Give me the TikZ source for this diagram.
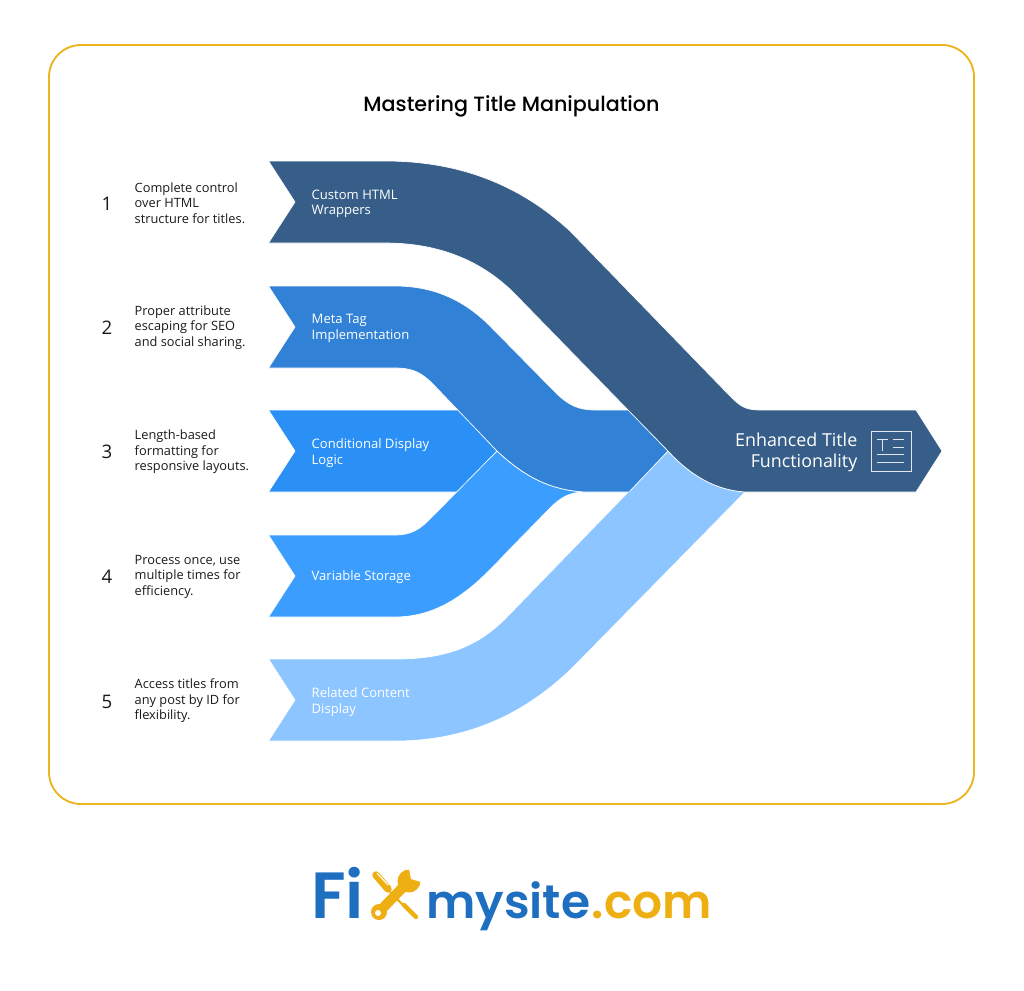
\documentclass[tikz,border=0pt]{standalone}
\usepackage{fontspec}
\setmainfont{Open Sans}
\newfontfamily\logofont{Poppins SemiBold}
\newfontfamily\headfont{Poppins Medium}
\definecolor{frameyellow}{HTML}{EBB51F}
\definecolor{banddark}{HTML}{375E88}
\definecolor{bandmid}{HTML}{3182D6}
\definecolor{bandthree}{HTML}{2B90F5}
\definecolor{bandfour}{HTML}{3B9EFF}
\definecolor{bandlight}{HTML}{8CC5FF}
\definecolor{logoblue}{HTML}{1F6FC0}
\definecolor{logoyellow}{HTML}{EEAF12}
\tikzset{
	band/.style={draw=white,line width=0.5pt},
	num/.style={font=\fontsize{14}{16}\selectfont,text=black!90},
	desc/.style={font=\fontsize{9.6}{11.6}\selectfont,text=black!90,align=left,anchor=west},
	bandtext/.style={font=\fontsize{9.8}{11.6}\selectfont,text=white,align=left,anchor=west},
	iconline/.style={draw=white!85!banddark,line width=0.6pt},
	logotext/.style={font=\fontsize{35.3}{44}\selectfont\logofont,inner sep=0pt}
}
\begin{document}
\begin{tikzpicture}[x=0.75pt,y=-0.75pt]
	\useasboundingbox (0,0) rectangle (1024,990);
	\draw[frameyellow,line width=1.4pt,rounded corners=24] (49,45) rectangle (974,804);
	\node[font=\fontsize{15.5}{18}\selectfont\headfont] (title) at (511.5,106) {Mastering Title Manipulation};

	% bands, back to front
	\fill[bandthree,band] (268.5,410) -- (459,410) -- (497,451) -- (459,492) -- (268.5,492) -- (295,451) -- cycle;
	\fill[bandfour,band] (268.5,535) -- (395,535) .. controls (412,535) and (420,529) .. (431,518) -- (497,451)
		.. controls (525,477) and (550,490) .. (585,492) .. controls (570,492) and (561,497) .. (550,508) -- (506,553)
		.. controls (478,583) and (445,617) .. (395,617) -- (268.5,617) -- (295,576) -- cycle;
	\fill[bandlight,band] (268.5,659) -- (395,659) .. controls (440,659) and (475,650) .. (507,617) -- (668,451)
		.. controls (690,475) and (715,490) .. (745,492) -- (580,660)
		.. controls (530,712) and (470,741) .. (395,741) -- (268.5,741) -- (295,700) -- cycle;
	\fill[bandmid,band] (268.5,286) -- (395,286) .. controls (435,286) and (465,301) .. (490,326) -- (555,392)
		.. controls (568,405) and (578,410) .. (595,410) -- (629,410) -- (668,451) -- (629,492) -- (585,492)
		.. controls (550,490) and (525,477) .. (497,451) -- (431,382)
		.. controls (420,372) and (412,368) .. (395,368) -- (268.5,368) -- (295,327) -- cycle;
	\fill[banddark,band] (268.5,161) -- (385,161) .. controls (460,161) and (520,185) .. (570,231) -- (730,396)
		.. controls (740,406) and (745,410) .. (760,410) -- (916,410) -- (942,451) -- (916,492) -- (745,492)
		.. controls (715,490) and (690,475) .. (668,451) -- (513,292)
		.. controls (478,258) and (435,243) .. (385,243) -- (268.5,243) -- (295,202) -- cycle;

	% left column
	\node[num] (n1) at (107,203.5) {1};
	\node[num] (n2) at (107,327.5) {2};
	\node[num] (n3) at (107,452) {3};
	\node[num] (n4) at (107,576.5) {4};
	\node[num] (n5) at (107,701.5) {5};
	\node[desc] (d1) at (130,203) {Complete control\\over HTML\\structure for titles.};
	\node[desc] (d2) at (130,327.5) {Proper attribute\\escaping for SEO\\and social sharing.};
	\node[desc] (d3) at (130,452) {Length-based\\formatting for\\responsive layouts.};
	\node[desc] (d4) at (130,576.5) {Process once, use\\multiple times for\\efficiency.};
	\node[desc] (d5) at (130,701) {Access titles from\\any post by ID for\\flexibility.};

	\node[bandtext] (b1) at (307,204) {Custom HTML\\Wrappers};
	\node[bandtext] (b2) at (307,328.5) {Meta Tag\\Implementation};
	\node[bandtext] (b3) at (307,453) {Conditional Display\\Logic};
	\node[bandtext] (b4) at (307,577) {Variable Storage};
	\node[bandtext] (b5) at (307,702) {Related Content\\Display};

	% target
	\node[font=\fontsize{13.4}{15.8}\selectfont,text=white,align=right,anchor=east] (target) at (862,452) {Enhanced Title\\Functionality};
	\draw[iconline] (871,431) rectangle (911.5,471.5);
	\draw[iconline] (877,439) -- (888,439) (882,439) -- (882,451) (893,439) -- (904,439) (893,447) -- (904,447)
		(877,454) -- (904,454) (877,462) -- (904,462);

	% logo
	\node[logotext,font=\fontsize{49}{52}\selectfont\logofont,text=logoblue,anchor=base west] (fi) at (311,918) {Fi};
	\node[logotext,text=logoblue,anchor=base west] (my) at (426,918) {mysite};
	\node[logotext,text=logoyellow,anchor=base east] (com) at (712,918) {.com};
	% screwdriver
	\draw[logoyellow,line width=5.6pt,line cap=round] (376,875) -- (388,889);
	\draw[white,line width=0.8pt] (377,873) -- (388,885);
	\draw[logoyellow,line width=1.8pt] (390,892) -- (403,905);
	\draw[logoyellow,line width=3.2pt,line cap=round] (404,905) -- (416,917);
	% wrench
	\draw[logoyellow,line width=7.5pt] (380,911) -- (407,883);
	\fill[logoyellow] (379,912) circle (8);
	\fill[white] (378,913) circle (3);
	\fill[logoyellow] (409,881) circle (11.5);
	\fill[white] (411,879) -- (409,869) -- (423,869) -- (421,882) -- cycle;
\end{tikzpicture}
\end{document}
